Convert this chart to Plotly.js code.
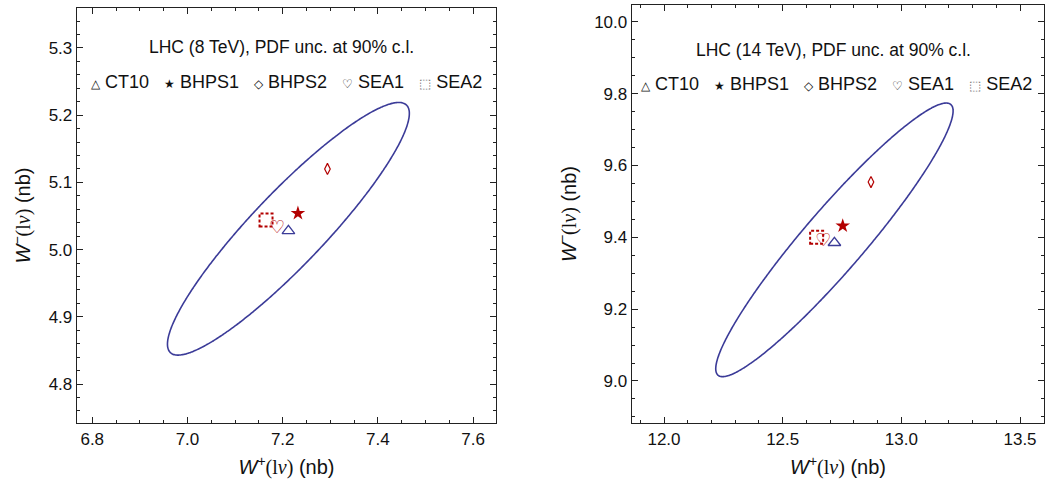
<!DOCTYPE html>
<html><head><meta charset="utf-8">
<script src="https://cdn.plot.ly/plotly-3.0.1.min.js"></script>
<style>body{margin:0;background:#fff}#chart{width:1045px;height:485px}</style>
</head><body><div id="chart"></div>
<script>
// ---- data ----
const panelTitles = ['LHC (8 TeV), PDF unc. at 90% c.l.', 'LHC (14 TeV), PDF unc. at 90% c.l.'];
const pdfSets = ['CT10', 'BHPS1', 'BHPS2', 'SEA1', 'SEA2'];
const wPlus8 = [7.212, 7.232, 7.294, 7.188, 7.165];
const wMinus8 = [5.028, 5.054, 5.120, 5.032, 5.044];
const wPlus14 = [12.718, 12.753, 12.872, 12.671, 12.643];
const wMinus14 = [9.385, 9.432, 9.554, 9.388, 9.400];
// 90% c.l. CT10 ellipse parameters: centre, half-extent in W+, half-extent in W-, correlation
const ellCenterX = [7.212, 12.718];
const ellCenterY = [5.031, 9.393];
const ellHalfX = [0.254, 0.500];
const ellHalfY = [0.188, 0.381];
const ellCorr = [0.913, 0.942];
const xRange = [[6.768, 7.648], [11.865, 13.601]];
const yRange = [[4.742, 5.3595], [8.883, 10.047]];

// ---- styles ----
const BLUE = '#3b3b98';
const RED = '#b30000';
const FONT = 'Liberation Sans, Arial, sans-serif';

const traces = [];
const shapes = [];
const annotations = [];
const px = [wPlus8, wPlus14];
const py = [wMinus8, wMinus14];

for (let p = 0; p < 2; p++) {
  const xa = p === 0 ? 'x' : 'x2';
  const ya = p === 0 ? 'y' : 'y2';
  // ellipse: x = x0 + dx cos t, y = y0 + dy cos(t + phi), cos(phi) = correlation
  const phi = Math.acos(ellCorr[p]);
  const ex = [], ey = [];
  for (let i = 0; i <= 360; i++) {
    const t = i * Math.PI / 180;
    ex.push(ellCenterX[p] + ellHalfX[p] * Math.cos(t));
    ey.push(ellCenterY[p] + ellHalfY[p] * Math.cos(t + phi));
  }
  traces.push({x: ex, y: ey, xaxis: xa, yaxis: ya, mode: 'lines',
    line: {color: BLUE, width: 1.6, shape: 'spline'}, hoverinfo: 'skip'});
  // CT10
  traces.push({x: [px[p][0]], y: [py[p][0]], xaxis: xa, yaxis: ya, mode: 'markers', name: pdfSets[0],
    marker: {symbol: 'triangle-up-open', size: 11, color: BLUE, line: {width: 1.3, color: BLUE}}});
  // BHPS1
  traces.push({x: [px[p][1]], y: [py[p][1]], xaxis: xa, yaxis: ya, mode: 'markers', name: pdfSets[1],
    marker: {symbol: 'star', size: 11, color: RED, line: {width: 0}}});
  // BHPS2
  traces.push({x: [px[p][2]], y: [py[p][2]], xaxis: xa, yaxis: ya, mode: 'markers', name: pdfSets[2],
    marker: {symbol: 'diamond-tall-open', size: 8, color: RED, line: {width: 1.2, color: RED}}});
  // SEA1
  traces.push({x: [px[p][3]], y: [py[p][3]], xaxis: xa, yaxis: ya, mode: 'text', name: pdfSets[3],
    text: ['\u2661'], textposition: 'middle center',
    textfont: {family: 'DejaVu Sans', size: 18, weight: 'bold', color: RED}});
  // SEA2 dashed square
  shapes.push({type: 'rect', xref: xa, yref: ya, xsizemode: 'pixel', ysizemode: 'pixel',
    xanchor: px[p][4], yanchor: py[p][4], x0: -6.5, x1: 6.5, y0: -6.5, y1: 6.5,
    line: {color: RED, width: 2, dash: '3px,2px'}});
}

const sym = (c) => '<span style="font-size:12px">' + c + '</span>';
const legendText = sym('\u25B3') + ' CT10\u00A0\u00A0 ' + sym('\u2605') + ' BHPS1\u00A0\u00A0 ' +
  sym('\u25C7') + ' BHPS2\u00A0\u00A0 ' + sym('\u2661') + ' SEA1\u00A0\u00A0 ' +
  '<span style="font-size:13px;fill:#666">\u2B1A</span> SEA2';

const annPos = [
  {tx: 0.489, ty: 0.906, lx: 0.501, ly: 0.822, xref: 'x domain', yref: 'y domain'},
  {tx: 0.488, ty: 0.892, lx: 0.496, ly: 0.811, xref: 'x2 domain', yref: 'y2 domain'}
];
for (let p = 0; p < 2; p++) {
  const a = annPos[p];
  annotations.push({xref: a.xref, yref: a.yref, x: a.tx, y: a.ty, text: panelTitles[p], showarrow: false,
    xanchor: 'center', yanchor: 'middle', font: {family: FONT, size: 17.5, color: '#111'}});
  annotations.push({xref: a.xref, yref: a.yref, x: a.lx, y: a.ly, text: legendText, showarrow: false,
    xanchor: 'center', yanchor: 'middle', font: {family: FONT, size: 18, color: '#111'}});
}

const xTitle = '<i>W</i><sup>+</sup><span style="font-family:Liberation Serif">(l<i>\u03BD</i>)</span> (nb)';
const yTitle = '<i>W</i><sup>\u2212</sup><span style="font-family:Liberation Serif">(l<i>\u03BD</i>)</span> (nb)';

function axis(range, dtick, minor, domain, anchor, title, standoff) {
  return {
    range: range, domain: domain, anchor: anchor, dtick: dtick, tick0: 0, tickformat: '.1f',
    ticks: 'inside', ticklen: 6, tickwidth: 1, tickcolor: '#222',
    minor: {dtick: minor, tick0: 0, ticks: 'inside', ticklen: 3, tickwidth: 1, tickcolor: '#222'},
    showline: true, linecolor: '#222', linewidth: 1.3, mirror: 'allticks',
    showgrid: false, zeroline: false,
    tickfont: {family: FONT, size: 17, color: '#111'},
    title: {text: title, font: {family: FONT, size: 20, color: '#111'}, standoff: standoff}
  };
}

const layout = {
  width: 1045, height: 485,
  margin: {l: 77, r: 1, t: 5, b: 62},
  paper_bgcolor: '#fff', plot_bgcolor: '#fff',
  showlegend: false,
  xaxis: axis(xRange[0], 0.2, 0.05, [0, 0.4333], 'y', xTitle, 12),
  yaxis: axis(yRange[0], 0.1, 0.02, [0, 0.9928], 'x', yTitle, 12),
  xaxis2: axis(xRange[1], 0.5, 0.1, [0.5739, 1], 'y2', xTitle, 12),
  yaxis2: axis(yRange[1], 0.2, 0.05, [0, 1], 'x2', yTitle, 12),
  shapes: shapes,
  annotations: annotations
};

Plotly.newPlot('chart', traces, layout, {displayModeBar: false, staticPlot: true});
</script>
</body></html>
